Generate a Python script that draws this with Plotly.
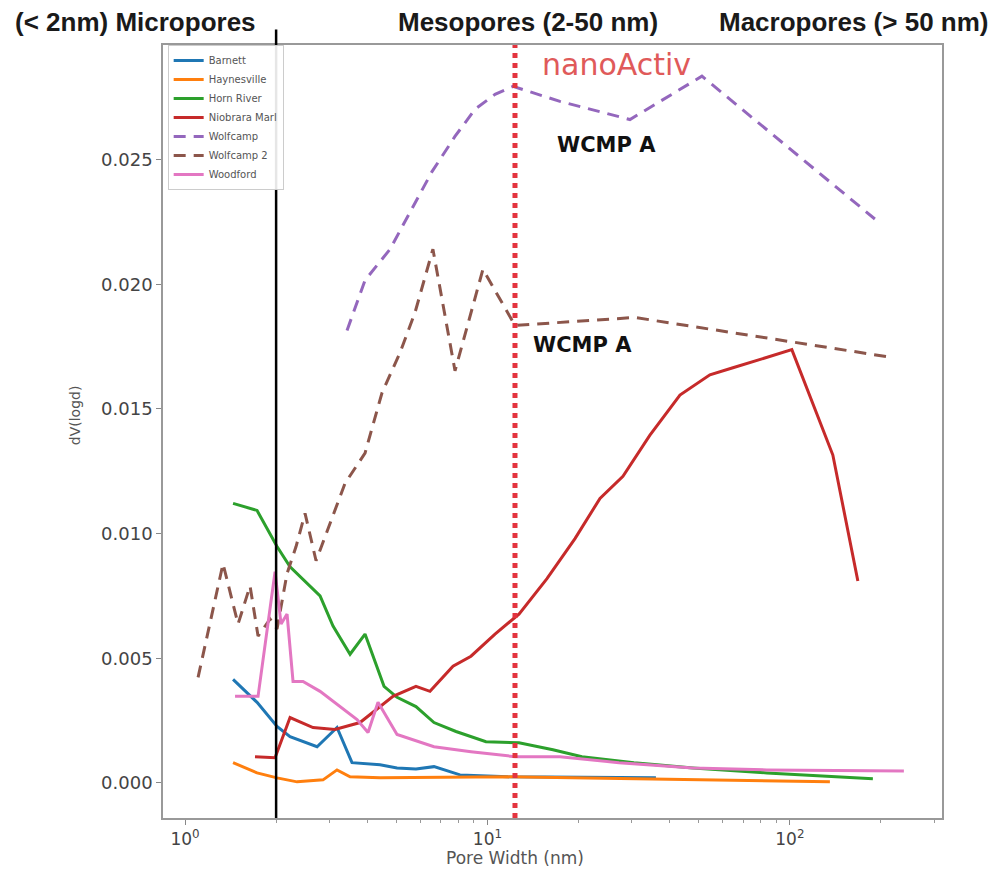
import plotly.graph_objects as go

# ---------------- data (pore width in nm, dV(logd)) ----------------
barnett_x = [1.441, 1.730, 2.014, 2.224, 2.732, 3.180, 3.565, 4.412, 5.022, 5.801, 6.655, 8.111, 11.69, 36.06]
barnett_y = [0.00415, 0.00323, 0.00226, 0.00185, 0.00145, 0.00222, 0.00081, 0.00073, 0.00060, 0.00056, 0.00065, 0.00032, 0.00024, 0.00020]

haynesville_x = [1.441, 1.730, 2.014, 2.346, 2.859, 3.180, 3.512, 4.412, 11.69, 135.6]
haynesville_y = [0.00081, 0.00040, 0.00020, 0.00004, 0.00012, 0.00052, 0.00024, 0.00020, 0.00024, 0.00004]

hornriver_x = [1.441, 1.730, 2.014, 2.224, 2.795, 3.085, 3.512, 3.936, 4.549, 5.022, 5.801, 6.655, 7.868,
               9.886, 12.71, 16.46, 20.53, 30.50, 47.79, 83.95, 188.1]
hornriver_y = [0.01121, 0.01093, 0.00948, 0.00867, 0.00750, 0.00629, 0.00516, 0.00597, 0.00387, 0.00343, 0.00306,
               0.00242, 0.00206, 0.00165, 0.00161, 0.00133, 0.00105, 0.00081, 0.00060, 0.00040, 0.00016]

niobrara_x = [1.703, 1.984, 2.224, 2.649, 3.131, 3.789, 4.870, 5.801, 6.455, 7.691, 8.819, 10.59, 12.71, 15.73,
              19.47, 23.55, 28.05, 34.45, 43.29, 54.39, 64.80, 79.58, 101.5, 138.7, 167.8]
niobrara_y = [0.00105, 0.00101, 0.00262, 0.00222, 0.00214, 0.00242, 0.00347, 0.00387, 0.00367, 0.00468, 0.00508,
              0.00597, 0.00677, 0.00819, 0.00980, 0.01141, 0.01230, 0.01395, 0.01556, 0.01637, 0.01665, 0.01698,
              0.01738, 0.01315, 0.00810]

wolfcamp_x = [3.432, 3.936, 4.762, 5.544, 6.555, 7.806, 9.093, 10.59, 12.14, 17.36, 29.59, 51.19, 191.0]
wolfcamp_y = [0.01815, 0.02016, 0.02141, 0.02290, 0.02452, 0.02593, 0.02702, 0.02762, 0.02794, 0.02734, 0.02661,
              0.02835, 0.02262]

wolfcamp2_x = [1.104, 1.335, 1.497, 1.640, 1.743, 1.910, 2.014, 2.173, 2.328, 2.493, 2.711, 3.016, 3.381, 3.937,
               4.48, 5.14, 5.76, 6.60, 7.81, 9.66, 12.33, 30.7, 219.0]
wolfcamp2_y = [0.00423, 0.00879, 0.00637, 0.00790, 0.00589, 0.00657, 0.00617, 0.00839, 0.00948, 0.01081, 0.00891,
               0.01040, 0.01202, 0.01323, 0.01565, 0.01726, 0.01887, 0.02141, 0.01653, 0.02060, 0.01835, 0.01867,
               0.01706]

woodford_x = [1.463, 1.743, 1.984, 2.077, 2.174, 2.275, 2.455, 2.795, 3.704, 4.027, 4.345, 5.022, 6.655, 8.819,
              12.33, 17.36, 27.21, 47.79, 83.95, 238.2]
woodford_y = [0.00347, 0.00347, 0.00847, 0.00637, 0.00677, 0.00407, 0.00407, 0.00367, 0.00254, 0.00202, 0.00323,
              0.00194, 0.00145, 0.00125, 0.00105, 0.00105, 0.00081, 0.00060, 0.00052, 0.00048]

micro_limit_nm = 2.0
nanoactiv_nm = 12.33
arrow_head = (4.41, 0.01565)

x_ticks = [1, 10, 100]
x_ticklabels = ["10<sup>0</sup>", "10<sup>1</sup>", "10<sup>2</sup>"]
x_minor = [2, 3, 4, 5, 6, 7, 8, 9, 20, 30, 40, 50, 60, 70, 80, 90, 200, 300]
y_ticks = [0.0, 0.005, 0.010, 0.015, 0.020, 0.025]
y_ticklabels = ["0.000", "0.005", "0.010", "0.015", "0.020", "0.025"]

series = [
    ("Barnett", barnett_x, barnett_y, "#1f77b4", "solid"),
    ("Haynesville", haynesville_x, haynesville_y, "#ff7f0e", "solid"),
    ("Horn River", hornriver_x, hornriver_y, "#2ca02c", "solid"),
    ("Niobrara Marl", niobrara_x, niobrara_y, "#c62a2a", "solid"),
    ("Wolfcamp", wolfcamp_x, wolfcamp_y, "#9467bd", "12px,8px"),
    ("Wolfcamp 2", wolfcamp2_x, wolfcamp2_y, "#8c564b", "12px,8px"),
    ("Woodford", woodford_x, woodford_y, "#e377c2", "solid"),
]

fig = go.Figure()
for name, xs, ys, col, dash in series:
    fig.add_trace(go.Scatter(x=xs, y=ys, mode="lines", name=name,
                             line=dict(color=col, width=3, dash=dash)))

# vertical reference lines
fig.add_shape(type="line", xref="x", yref="paper", x0=micro_limit_nm, x1=micro_limit_nm, y0=0, y1=1.02,
              line=dict(color="black", width=2.5), layer="above")
fig.add_shape(type="line", xref="x", yref="paper", x0=nanoactiv_nm, x1=nanoactiv_nm, y0=0, y1=1.0,
              line=dict(color="#e3343f", width=5, dash="dot"), layer="above")

hdr_font = dict(family="Liberation Sans", size=26, color="#1a1a1a")
fig.add_annotation(text="<b>(< 2nm) Micropores</b>", xref="paper", yref="paper", x=-0.035, y=1.030,
                   xanchor="center", yanchor="middle", showarrow=False, font=hdr_font)
fig.add_annotation(text="<b>Mesopores (2-50 nm)</b>", xref="paper", yref="paper", x=0.4685, y=1.030,
                   xanchor="center", yanchor="middle", showarrow=False, font=hdr_font)
fig.add_annotation(text="<b>Macropores (> 50 nm)</b>", xref="paper", yref="paper", x=0.886, y=1.030,
                   xanchor="center", yanchor="middle", showarrow=False, font=hdr_font)

fig.add_annotation(text="nanoActiv", xref="paper", yref="paper", x=0.484, y=0.975,
                   xanchor="left", yanchor="middle", showarrow=False,
                   font=dict(family="DejaVu Sans", size=30, color="#e05a5a"))
fig.add_annotation(text="<b>WCMP A</b>", xref="paper", yref="paper", x=0.503, y=0.871,
                   xanchor="left", yanchor="middle", showarrow=False,
                   font=dict(family="DejaVu Sans", size=21, color="#111111"))
fig.add_annotation(text="<b>WCMP A</b>", xref="paper", yref="paper", x=0.473, y=0.612,
                   xanchor="left", yanchor="middle", showarrow=False,
                   font=dict(family="DejaVu Sans", size=21, color="#111111"))

fig.add_annotation(x=arrow_head[0], y=arrow_head[1], xref="x", yref="y", ax=-68, ay=-33,
                   showarrow=True, arrowhead=2, arrowsize=1.2, arrowwidth=1.8, arrowcolor="black", text="")

# axis titles as annotations (positioned like the reference)
fig.add_annotation(text="Pore Width (nm)", xref="paper", yref="paper", x=0.452, y=-0.052,
                   xanchor="center", yanchor="middle", showarrow=False,
                   font=dict(family="DejaVu Sans", size=17, color="#555555"))
fig.add_annotation(text="dV(logd)", xref="paper", yref="paper", x=-0.113, y=0.521, textangle=-90,
                   xanchor="center", yanchor="middle", showarrow=False,
                   font=dict(family="DejaVu Sans", size=14, color="#555555"))

fig.update_layout(
    width=1000, height=875,
    margin=dict(l=155, r=66, t=37, b=65),
    paper_bgcolor="white", plot_bgcolor="white",
    font=dict(family="DejaVu Sans", color="#444444"),
    showlegend=True,
    legend=dict(x=0.006, y=1.0, xanchor="left", yanchor="top",
                bgcolor="rgba(255,255,255,0.9)", bordercolor="#cccccc", borderwidth=1,
                font=dict(size=10, color="#555555"), tracegroupgap=0, itemwidth=30),
)
fig.update_xaxes(type="log", range=[-0.073, 2.503], tickvals=x_ticks, ticktext=x_ticklabels,
                 ticks="outside", ticklen=5, tickcolor="#888888", showgrid=False, zeroline=False,
                 showline=True, linecolor="#999999", linewidth=1.5, mirror=True,
                 tickfont=dict(size=17, color="#444444"),
                 minor=dict(tickvals=x_minor, ticks="outside", ticklen=3, tickcolor="#999999"))
fig.update_yaxes(range=[-0.00141, 0.0296], tickvals=y_ticks, ticktext=y_ticklabels,
                 ticks="outside", ticklen=5, tickcolor="#888888", showgrid=False, zeroline=False,
                 showline=True, linecolor="#999999", linewidth=1.5, mirror=True,
                 tickfont=dict(size=18, color="#444444"))

fig.write_html("out.html")
